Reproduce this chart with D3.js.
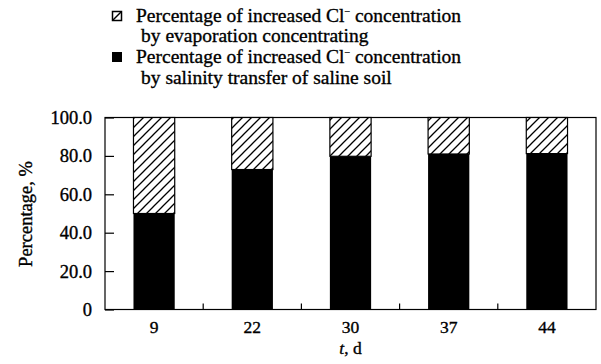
<!DOCTYPE html>
<html>
<head>
<meta charset="utf-8">
<script src="https://cdn.jsdelivr.net/npm/d3@7"></script>
<style>
  body { margin: 0; background: #fff; }
  text { font-family: "Liberation Serif", "Times New Roman", serif; fill: #000; stroke: #000; stroke-width: 0.35px; }
</style>
</head>
<body>
<div id="chart"></div>
<script>
var days = ["9", "22", "30", "37", "44"]
var transfer = [50.0, 72.9, 79.8, 81.0, 81.2]
var evaporation = transfer.map(function(v){ return 100 - v })
var yTicks = [0, 20, 40, 60, 80, 100]
var legendLines = [
  ["Percentage of increased Cl", " concentration", "by evaporation concentrating"],
  ["Percentage of increased Cl", " concentration", "by salinity transfer of saline soil"]
]

var W = 601, H = 364
var mLeft = 105, mRight = 596, mTop = 117.5, mBottom = 309.5
var fs = "18.5px"

var svg = d3.select("#chart").append("svg").attr("width", W).attr("height", H)

var defs = svg.append("defs")
var pat = defs.append("pattern").attr("id", "hatch").attr("patternUnits", "userSpaceOnUse")
  .attr("width", 9).attr("height", 9)
pat.append("rect").attr("width", 9).attr("height", 9).attr("fill", "#fff")
pat.append("path").attr("d", "M0,9 L9,0 M-2,2 L2,-2 M7,11 L11,7")
  .attr("stroke", "#000").attr("stroke-width", 1.3)

var x = d3.scaleBand().domain(days).range([mLeft, mRight]).paddingInner(0.58).paddingOuter(0.29)
var y = d3.scaleLinear().domain([0, 100]).range([mBottom, mTop])

// frame
svg.append("rect").attr("x", mLeft).attr("y", mTop).attr("width", mRight - mLeft).attr("height", mBottom - mTop)
  .attr("fill", "none").attr("stroke", "#000").attr("stroke-width", 1.2)

// black part
svg.selectAll("rect.transfer").data(days).enter().append("rect").attr("class", "transfer")
  .attr("x", function(d){ return x(d) })
  .attr("y", function(d, i){ return y(transfer[i]) })
  .attr("width", x.bandwidth())
  .attr("height", function(d, i){ return y(0) - y(transfer[i]) })
  .attr("fill", "#000")

// hatched part
svg.selectAll("rect.evap").data(days).enter().append("rect").attr("class", "evap")
  .attr("x", function(d){ return x(d) })
  .attr("y", function(d, i){ return y(transfer[i] + evaporation[i]) })
  .attr("width", x.bandwidth())
  .attr("height", function(d, i){ return y(transfer[i]) - y(transfer[i] + evaporation[i]) })
  .attr("fill", "url(#hatch)")
  .attr("stroke", "#000").attr("stroke-width", 1.2)

// y axis
var yAxis = d3.axisLeft(y).tickValues(yTicks).tickSizeInner(-9).tickSizeOuter(0).tickPadding(13)
  .tickFormat(function(d){ return d === 0 ? "0" : d3.format(".1f")(d) })
var gy = svg.append("g").attr("transform", "translate(" + mLeft + ",0)").call(yAxis)
gy.select(".domain").remove()
gy.selectAll("line").attr("stroke", "#000").attr("stroke-width", 1.2)
gy.selectAll("text").style("font-size", fs).style("font-family", "'Liberation Serif', serif")
  .attr("fill", "#000")

// x axis: ticks between bars
var xAxis = d3.axisBottom(x).tickSize(0).tickPadding(11)
var gx = svg.append("g").attr("transform", "translate(0," + mBottom + ")").call(xAxis)
gx.select(".domain").remove()
gx.selectAll("text").style("font-size", "17.5px").style("font-family", "'Liberation Serif', serif")
  .attr("fill", "#000")

var step = x.step()
svg.selectAll("line.sep").data(days.slice(1)).enter().append("line").attr("class", "sep")
  .attr("x1", function(d){ return x(d) - step * 0.29 })
  .attr("x2", function(d){ return x(d) - step * 0.29 })
  .attr("y1", mBottom).attr("y2", mBottom - 6)
  .attr("stroke", "#000").attr("stroke-width", 1.2)

// axis titles
var xt = svg.append("text").attr("x", x("30") + x.bandwidth() / 2).attr("y", 354)
  .attr("text-anchor", "middle").style("font-size", "17.5px")
xt.append("tspan").text("t").style("font-style", "italic")
xt.append("tspan").text(", d")

svg.append("text").attr("transform", "translate(32,214) rotate(-90)")
  .attr("text-anchor", "middle").style("font-size", fs)
  .text("Percentage, %")

// legend
var lg = svg.append("g")
var lfs = "19.5px"
var rowsY = [[22, 42], [63, 84]]
legendLines.forEach(function(l, i){
  var t1 = lg.append("text").attr("x", 136).attr("y", rowsY[i][0]).style("font-size", lfs)
  t1.append("tspan").text(l[0])
  t1.append("tspan").text("\u2212").attr("dy", -7).style("font-size", "10px")
  t1.append("tspan").text(l[1]).attr("dy", 7)
  lg.append("text").attr("x", 141).attr("y", rowsY[i][1]).style("font-size", lfs).text(l[2])
})
lg.append("rect").attr("x", 112.5).attr("y", 11.5).attr("width", 9).attr("height", 9)
  .attr("fill", "#fff").attr("stroke", "#000").attr("stroke-width", 1.5)
lg.append("line").attr("x1", 112.5).attr("y1", 20.5).attr("x2", 121.5).attr("y2", 11.5)
  .attr("stroke", "#000").attr("stroke-width", 1.5)
lg.append("rect").attr("x", 112).attr("y", 52).attr("width", 10).attr("height", 10).attr("fill", "#000")
</script>
</body>
</html>
